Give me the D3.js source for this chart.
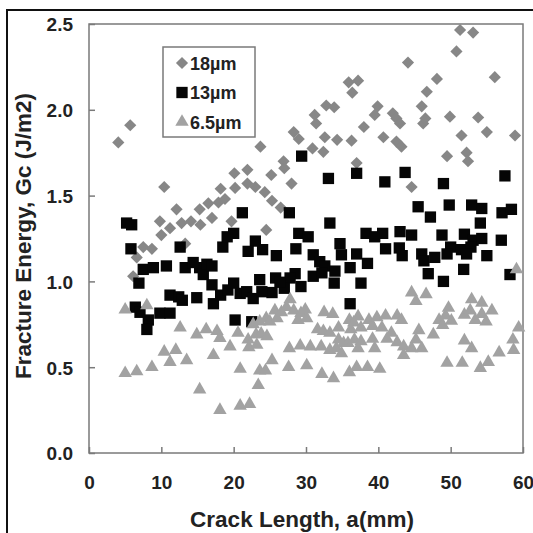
<!DOCTYPE html>
<html>
<head>
<meta charset="utf-8">
<script src="https://cdn.jsdelivr.net/npm/d3@7"></script>
<style>
  body { margin: 0; background: #fff; }
  svg text { font-family: "Liberation Sans", Arial, sans-serif; font-weight: bold; fill: #222; }
</style>
</head>
<body>
<div id="chart"></div>
<script>
// Fracture energy vs crack length, three film thicknesses

const xTicks = [0, 10, 20, 30, 40, 50, 60];
const yTicks = [0.0, 0.5, 1.0, 1.5, 2.0, 2.5];
const seriesNames = ['18\u00b5m', '13\u00b5m', '6.5\u00b5m'];

// 18 um  [crack length mm, Gc J/m2]
const d18 = [
    [4.05,1.81],[5.7,1.91],[6.1,1.03],[6.6,1.14],[7.5,1.20],[8.7,1.19],[9.8,1.35],[10.0,1.27],
    [10.4,1.55],[11.2,1.31],[12.1,1.42],[12.8,1.34],[13.3,1.22],[14.1,1.35],[15.3,1.42],[15.4,1.33],
    [16.5,1.455],[17.0,1.37],[17.9,1.46],[18.2,1.54],[18.8,1.48],[19.7,1.35],[20.1,1.63],[20.2,1.545],
    [21.9,1.65],[21.9,1.57],[23.0,1.55],[24.3,1.52],[23.7,1.785],[25.2,1.62],[25.3,1.47],[24.5,1.30],
    [26.5,1.43],[26.9,1.70],[27.0,1.66],[28.0,1.57],[28.3,1.87],[29.0,1.83],[30.9,1.775],[31.2,1.97],
    [31.4,1.92],[32.4,1.755],[32.6,1.84],[32.8,2.025],[33.9,2.015],[34.3,1.825],[35.9,2.16],[37.2,2.17],
    [36.4,2.10],[36.3,1.82],[37.0,1.69],[38.0,1.90],[39.9,2.02],[39.5,1.97],[40.7,1.84],[42.0,1.98],
    [42.5,1.95],[43.0,1.92],[42.5,1.815],[43.2,1.785],[44.1,2.275],[44.6,1.55],[46.0,2.02],[46.2,1.92],
    [46.5,1.95],[46.7,2.105],[48.1,2.18],[49.5,1.73],[49.9,1.96],[50.8,2.34],[51.3,2.465],[51.5,1.85],
    [52.2,1.75],[52.4,1.70],[53.1,2.45],[53.8,1.955],[55.0,1.87],[56.1,2.19],[58.9,1.85]
];

// 13 um
const d13 = [
    [5.2,1.34],[5.9,1.33],[5.8,1.19],[6.4,0.85],[6.9,0.99],[7.05,0.82],[8.2,0.775],[8.0,0.72],
    [9.8,0.815],[11.2,0.815],[7.5,1.07],[8.9,1.08],[10.7,1.09],[13.3,1.08],[14.4,1.11],[15.3,1.08],
    [15.8,1.04],[16.3,1.10],[17.0,1.09],[11.2,0.92],[12.4,0.91],[12.9,0.89],[14.9,0.905],[17.0,0.98],
    [17.2,0.87],[18.2,0.92],[19.2,0.95],[20.0,0.99],[20.9,0.93],[21.8,0.94],[22.7,0.90],[20.2,0.775],
    [22.5,0.765],[23.6,1.01],[12.6,1.20],[18.5,1.20],[19.1,1.26],[20.0,1.28],[21.2,1.40],[23.0,1.235],
    [22.0,1.175],[24.0,1.185],[25.9,1.15],[27.7,1.40],[29.0,1.28],[30.3,1.26],[28.6,1.19],[29.4,1.73],
    [31.0,1.155],[31.9,1.115],[32.6,1.09],[33.1,1.60],[33.3,1.34],[34.7,1.22],[34.9,1.155],[34.0,1.06],
    [33.9,0.99],[37.0,1.63],[37.0,1.16],[36.1,1.08],[38.5,1.105],[38.3,1.28],[37.6,0.99],[36.1,0.87],
    [31.0,1.03],[32.2,1.05],[28.5,1.045],[29.3,0.97],[27.8,1.02],[27.0,0.96],[25.8,1.02],[26.4,0.995],
    [25.3,0.935],[23.9,0.94],[40.9,1.58],[43.7,1.635],[49.0,1.57],[57.5,1.615],[45.5,1.435],[47.2,1.375],
    [49.8,1.445],[52.9,1.445],[54.3,1.425],[54.1,1.34],[57.1,1.40],[58.4,1.42],[39.5,1.26],[40.6,1.28],
    [41.0,1.19],[43.0,1.29],[44.6,1.27],[42.9,1.195],[43.3,1.15],[46.0,1.16],[46.3,1.12],[47.8,1.14],
    [48.8,1.27],[50.0,1.20],[49.5,1.16],[51.9,1.275],[51.5,1.185],[53.1,1.24],[54.3,1.25],[52.8,1.20],
    [52.2,1.16],[55.0,1.15],[57.0,1.24],[46.9,1.045],[49.0,1.0],[51.8,1.07],[58.2,1.04]
];

// 6.5 um
const d65 = [
    [5.0,0.835],[8.0,0.86],[5.0,0.465],[6.6,0.475],[8.7,0.50],[10.4,0.59],[12.0,0.60],[11.2,0.53],
    [13.5,0.54],[12.6,0.73],[14.9,0.69],[16.2,0.72],[17.7,0.71],[18.1,0.67],[17.2,0.57],[19.5,0.62],
    [15.3,0.37],[18.1,0.25],[20.9,0.49],[20.9,0.275],[22.2,0.285],[20.6,0.70],[22.0,0.66],[22.1,0.615],
    [23.1,0.69],[22.7,0.75],[23.6,0.765],[23.4,0.395],[23.6,0.48],[24.4,0.48],[23.2,0.63],[23.8,0.695],
    [24.6,0.68],[24.5,0.785],[25.0,0.765],[26.0,0.785],[25.7,0.83],[26.6,0.82],[27.3,0.85],[28.3,0.83],
    [29.3,0.815],[29.9,0.835],[27.8,0.895],[28.9,0.775],[30.1,0.785],[25.3,0.54],[27.7,0.61],[29.2,0.625],
    [30.6,0.62],[27.6,0.50],[30.1,0.51],[31.6,0.72],[32.4,0.71],[33.3,0.70],[34.5,0.73],[32.5,0.82],
    [33.7,0.81],[32.1,0.62],[33.3,0.60],[34.2,0.61],[35.2,0.64],[34.5,0.66],[34.9,0.58],[32.2,0.46],
    [33.8,0.435],[36.0,0.47],[37.0,0.50],[38.5,0.50],[40.2,0.49],[36.0,0.775],[36.6,0.76],[37.2,0.795],
    [36.2,0.72],[37.6,0.73],[35.8,0.64],[36.7,0.66],[37.6,0.65],[37.2,0.61],[38.7,0.775],[39.2,0.665],
    [39.8,0.79],[41.0,0.80],[39.2,0.74],[40.5,0.73],[42.6,0.80],[43.2,0.775],[41.8,0.70],[41.2,0.665],
    [42.6,0.645],[43.5,0.62],[43.5,0.57],[39.5,0.61],[44.6,0.935],[46.6,0.925],[45.2,0.885],[45.6,0.715],
    [45.2,0.66],[46.0,0.61],[44.6,0.61],[47.6,0.69],[48.4,0.775],[48.9,0.745],[49.3,0.80],[49.7,0.845],
    [50.1,0.77],[51.9,0.805],[52.9,0.895],[54.3,0.875],[52.7,0.83],[54.3,0.81],[55.7,0.83],[54.9,0.765],
    [53.4,0.775],[49.5,0.525],[51.6,0.525],[54.1,0.495],[55.2,0.53],[56.7,0.585],[51.9,0.655],[52.9,0.61],
    [59.1,1.07],[59.4,0.73],[58.6,0.66],[58.7,0.60]
];

const W = 533, H = 533;
const plot = {left: 89, top: 24, right: 523, bottom: 453};
const frameColor = '#7a7a7a';

const svg = d3.select('#chart')
    .append('svg')
    .attr('width', W)
    .attr('height', H);

const x = d3.scaleLinear().domain([0, 60]).range([plot.left, plot.right]);
const y = d3.scaleLinear().domain([0, 2.5]).range([plot.bottom, plot.top]);

// outer picture border (top and left only)
svg.append('path')
    .attr('d', `M7,${H} L7,10 L${W},10`)
    .attr('fill', 'none')
    .attr('stroke', '#111')
    .attr('stroke-width', 2);

// plot frame
svg.append('rect')
    .attr('x', plot.left)
    .attr('y', plot.top)
    .attr('width', plot.right - plot.left)
    .attr('height', plot.bottom - plot.top)
    .attr('fill', 'none')
    .attr('stroke', frameColor)
    .attr('stroke-width', 1.5);

// inward ticks
const xAxis = d3.axisBottom(x).tickValues(xTicks).tickSize(-6).tickFormat(d3.format('d'));
const gx = svg.append('g')
    .attr('transform', `translate(0,${plot.bottom})`)
    .call(xAxis);
gx.select('.domain').remove();
gx.selectAll('line').attr('stroke', frameColor).attr('stroke-width', 1.5);
gx.selectAll('text')
    .attr('y', 36)
    .attr('dy', 0)
    .style('font-size', '19px')
    .style('fill', '#222');

const yAxis = d3.axisLeft(y).tickValues(yTicks).tickSize(-6).tickFormat(d3.format('.1f'));
const gy = svg.append('g')
    .attr('transform', `translate(${plot.left},0)`)
    .call(yAxis);
gy.select('.domain').remove();
gy.selectAll('line').attr('stroke', frameColor).attr('stroke-width', 1.5);
gy.selectAll('text')
    .attr('x', -16)
    .attr('dy', '0.36em')
    .style('font-size', '19px')
    .style('fill', '#222');

// axis titles
svg.append('text')
    .attr('x', 302)
    .attr('y', 527)
    .attr('text-anchor', 'middle')
    .style('font-size', '22.5px')
    .text('Crack Length, a(mm)');

svg.append('text')
    .attr('transform', 'translate(31,236) rotate(-90)')
    .attr('text-anchor', 'middle')
    .style('font-size', '22.5px')
    .text('Fracture Energy, Gc (J/m2)');

// markers
const styles = [
    {data: d18, fill: '#878787', path: d3.symbol().type(d3.symbolSquare).size(74)(), rot: 45},
    {data: d13, fill: '#050505', path: d3.symbol().type(d3.symbolSquare).size(128)(), rot: 0},
    {data: d65, fill: '#a2a2a2', path: d3.symbol().type(d3.symbolTriangle).size(78)(), rot: 0}
];

styles.forEach(s => {
    svg.append('g')
        .selectAll('path')
        .data(s.data)
        .enter()
        .append('path')
        .attr('d', s.path)
        .attr('transform', d => `translate(${x(d[0])},${y(d[1])}) rotate(${s.rot})`)
        .attr('fill', s.fill);
});

// legend
const legend = svg.append('g').attr('transform', 'translate(163,47)');
legend.append('rect')
    .attr('width', 92)
    .attr('height', 90)
    .attr('fill', '#fff')
    .attr('stroke', frameColor)
    .attr('stroke-width', 1.5);

styles.forEach((s, i) => {
    const cy = 16 + i * 29.5;
    legend.append('path')
        .attr('d', s.path)
        .attr('transform', `translate(19,${cy}) rotate(${s.rot})`)
        .attr('fill', s.fill);
    legend.append('text')
        .attr('x', 27)
        .attr('y', cy + 6.5)
        .style('font-size', '18px')
        .text(seriesNames[i]);
});
</script>
</body>
</html>
